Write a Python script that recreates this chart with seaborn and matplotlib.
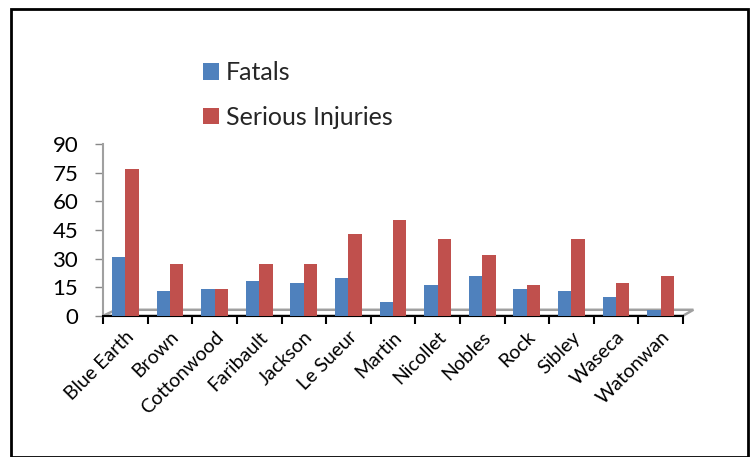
import matplotlib
matplotlib.use("Agg")
import matplotlib.pyplot as plt
import seaborn as sns
import pandas as pd
import numpy as np
from matplotlib.patches import Rectangle, Polygon

counties = ["Blue Earth", "Brown", "Cottonwood", "Faribault", "Jackson", "Le Sueur",
            "Martin", "Nicollet", "Nobles", "Rock", "Sibley", "Waseca", "Watonwan"]
fatals = [31, 13, 14, 18, 17, 20, 7, 16, 21, 14, 13, 10, 3]
serious = [77, 27, 14, 27, 27, 43, 50, 40, 32, 16, 40, 17, 21]
series_names = ["Fatals", "Serious Injuries"]
yticks = [0, 15, 30, 45, 60, 75, 90]

df = pd.DataFrame({
    "County": counties * 2,
    "Value": fatals + serious,
    "Series": [series_names[0]] * len(counties) + [series_names[1]] * len(counties),
})

sns.set_theme(style="white")
plt.rcParams["font.family"] = ["Lato", "DejaVu Sans"]

fig = plt.figure(figsize=(7.53, 4.57), dpi=100)
ax = fig.add_axes([0.137, 0.309, 0.77, 0.376])

palette = {"Fatals": "#4F81BD", "Serious Injuries": "#C0504D"}
sns.barplot(data=df, x="County", y="Value", hue="Series", palette=palette,
            width=0.6, ax=ax, edgecolor="none", saturation=1, zorder=3)

ax.set_ylim(0, 90)
ax.set_yticks(yticks)
ax.set_yticklabels([str(t) for t in yticks], fontsize=16, color="black")
n = len(counties)
ax.set_xlim(-0.5, n - 0.5)
ax.set_xlabel("")
ax.set_ylabel("")
ax.set_xticks(range(n))
ax.set_xticklabels(counties, rotation=45, ha="right", rotation_mode="anchor", fontsize=14,
                   color="black")
ax.set_xticks(np.arange(-0.5, n, 1.0), minor=True)
ax.tick_params(axis="x", which="major", length=0, pad=9)
ax.tick_params(axis="x", which="minor", length=6, width=1.5, color="black", direction="out", bottom=True)
ax.tick_params(axis="y", length=6, width=1, color="#888888", direction="out", pad=12, left=True)
for s in ["top", "right"]:
    ax.spines[s].set_visible(False)
ax.spines["left"].set_color("#A0A0A0")
ax.spines["left"].set_linewidth(1.5)
ax.spines["bottom"].set_color("black")
ax.spines["bottom"].set_linewidth(1.5)

# floor of the 3D look
floor = Polygon([(0.0, 0.0), (0.022, 0.035), (1.018, 0.035), (1.0, 0.0)], closed=True,
                transform=ax.transAxes, facecolor="white", edgecolor="#A0A0A0",
                linewidth=1.8, zorder=1, clip_on=False)
ax.add_patch(floor)

ax.legend_.remove()
handles, labels = ax.get_legend_handles_labels()
fig.legend(handles, labels, loc="upper left", bbox_to_anchor=(0.24, 0.915),
           frameon=False, fontsize=18, labelspacing=0.85, handlelength=0.62,
           handleheight=0.62, handletextpad=0.3)

fig.patches.append(Rectangle((0.014, 0.0), 0.98, 0.98, transform=fig.transFigure,
                             fill=False, edgecolor="black", linewidth=2))

fig.savefig("out.png", dpi=100)
